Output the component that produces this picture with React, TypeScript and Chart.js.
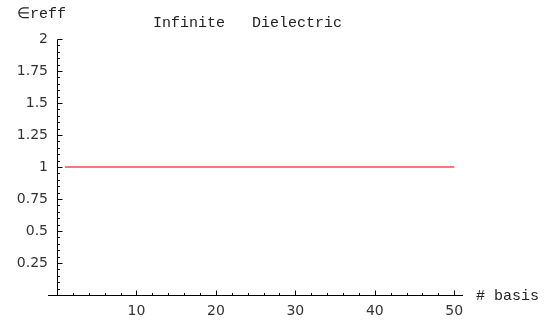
import React, { useEffect, useRef } from 'react';
import { Chart, registerables } from 'chart.js';

Chart.register(...registerables);

const basisCounts = [
  1, 2, 3, 4, 5, 6, 7, 8, 9, 10,
  11, 12, 13, 14, 15, 16, 17, 18, 19, 20,
  21, 22, 23, 24, 25, 26, 27, 28, 29, 30,
  31, 32, 33, 34, 35, 36, 37, 38, 39, 40,
  41, 42, 43, 44, 45, 46, 47, 48, 49, 50,
];
const effectivePermittivity = [
  1, 1, 1, 1, 1, 1, 1, 1, 1, 1,
  1, 1, 1, 1, 1, 1, 1, 1, 1, 1,
  1, 1, 1, 1, 1, 1, 1, 1, 1, 1,
  1, 1, 1, 1, 1, 1, 1, 1, 1, 1,
  1, 1, 1, 1, 1, 1, 1, 1, 1, 1,
];
const xTickValues = [10, 20, 30, 40, 50];
const yTickValues = [0.25, 0.5, 0.75, 1, 1.25, 1.5, 1.75, 2];
const titleText = 'Infinite   Dielectric';
const yAxisLabel = '\u2208reff';
const xAxisLabel = '# basis';

const axesPlugin = {
  id: 'mmaAxes',
  afterDraw(chart: any) {
    const ctx = chart.ctx as CanvasRenderingContext2D;
    const xs = chart.scales.x;
    const ys = chart.scales.y;
    const area = chart.chartArea;
    const x0 = Math.round(xs.getPixelForValue(0)) + 0.5;
    const y0 = Math.round(ys.getPixelForValue(0)) + 0.5;
    const yTop = Math.round(ys.getPixelForValue(2)) + 0.5;
    ctx.save();
    ctx.strokeStyle = '#000';
    ctx.lineWidth = 1;
    ctx.beginPath();
    ctx.moveTo(area.left - 9, y0);
    ctx.lineTo(area.right, y0);
    ctx.moveTo(x0, y0);
    ctx.lineTo(x0, yTop);
    for (let v = 2; v <= 50; v += 2) {
      const px = Math.round(xs.getPixelForValue(v)) + 0.5;
      const len = v % 10 === 0 ? 5 : 2.5;
      ctx.moveTo(px, y0);
      ctx.lineTo(px, y0 - len);
    }
    for (let i = 1; i <= 40; i++) {
      const v = i * 0.05;
      const py = Math.round(ys.getPixelForValue(v)) + 0.5;
      const len = i % 5 === 0 ? 5 : 2.5;
      ctx.moveTo(x0, py);
      ctx.lineTo(x0 + len, py);
    }
    ctx.stroke();

    ctx.fillStyle = '#222';
    ctx.textBaseline = 'alphabetic';
    ctx.textAlign = 'left';
    ctx.font = '15px "Liberation Mono"';
    ctx.fillText(titleText, 153, 27);
    ctx.fillText(yAxisLabel, 17, 18);
    ctx.fillText(xAxisLabel, 476, 300);
    ctx.restore();
  },
};

export default function App() {
  const canvasRef = useRef<HTMLCanvasElement | null>(null);

  useEffect(() => {
    document.body.style.margin = '0';
    const canvas = canvasRef.current;
    if (!canvas) return;
    const chart = new Chart(canvas, {
      type: 'line',
      data: {
        datasets: [
          {
            data: basisCounts.map((x, i) => ({ x, y: effectivePermittivity[i] })),
            borderColor: 'rgb(255, 70, 70)',
            borderWidth: 1.5,
            pointRadius: 0,
            fill: false,
            tension: 0,
          },
        ],
      },
      options: {
        animation: false,
        responsive: false,
        devicePixelRatio: 1,
        layout: { padding: { left: 0, right: 85, top: 39, bottom: 0 } },
        plugins: {
          legend: { display: false },
          tooltip: { enabled: false },
          title: { display: false },
        },
        scales: {
          x: {
            type: 'linear',
            min: 0,
            max: 51.1,
            position: 'bottom',
            grid: { display: false, drawTicks: false },
            border: { display: false },
            afterBuildTicks: (s: any) => {
              s.ticks = xTickValues.map((v) => ({ value: v }));
            },
            afterFit: (s: any) => {
              s.height = 25;
            },
            ticks: {
              autoSkip: false,
              maxRotation: 0,
              minRotation: 0,
              padding: 8,
              color: '#333',
              font: { family: 'DejaVu Sans', size: 14 },
              callback: (v: any) => String(v),
            },
          },
          y: {
            type: 'linear',
            min: 0,
            max: 2,
            position: 'left',
            grid: { display: false, drawTicks: false },
            border: { display: false },
            afterBuildTicks: (s: any) => {
              s.ticks = yTickValues.map((v) => ({ value: v }));
            },
            afterFit: (s: any) => {
              s.width = 57;
            },
            ticks: {
              autoSkip: false,
              padding: 9,
              color: '#333',
              font: { family: 'DejaVu Sans', size: 14 },
              callback: (v: any) => String(v),
            },
          },
        },
      },
      plugins: [axesPlugin],
    });
    return () => chart.destroy();
  }, []);

  return <canvas ref={canvasRef} width={548} height={320} style={{ display: 'block' }} />;
}
